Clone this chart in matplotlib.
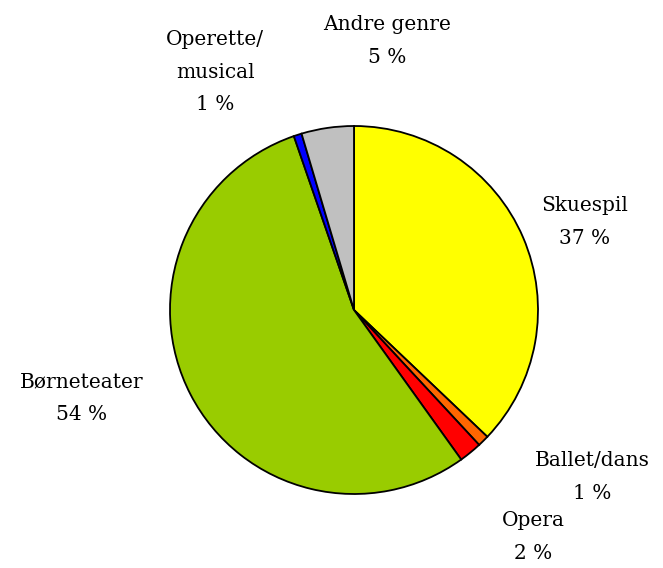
import matplotlib
matplotlib.use("Agg")
import matplotlib.pyplot as plt

categories = ["Skuespil", "Ballet/dans", "Opera", "Børneteater", "Operette/\nmusical", "Andre genre"]
values = [37.1, 1.0, 2.0, 54.6, 0.7, 4.6]
pct_labels = ["37 %", "1 %", "2 %", "54 %", "1 %", "5 %"]
colors = ["#FFFF00", "#FF6600", "#FF0000", "#99CC00", "#0000FF", "#C0C0C0"]
label_pos = [(1.255, 0.478), (1.293, -0.908), (0.973, -1.234), (-1.478, -0.478), (-0.755, 1.293), (0.179, 1.462)]

W, H = 663, 568
cx, cy, r = 354, 310, 184
fig = plt.figure(figsize=(W / 100, H / 100), dpi=100)
ax = fig.add_axes([(cx - r) / W, (H - cy - r) / H, 2 * r / W, 2 * r / H])
ax.pie(values, colors=colors, startangle=90, counterclock=False,
       wedgeprops=dict(edgecolor="black", linewidth=1.3))
ax.set_xlim(-1, 1)
ax.set_ylim(-1, 1)
ax.set_aspect("equal")
ax.axis("off")

for cat, pct, (x, y) in zip(categories, pct_labels, label_pos):
    ax.text(x, y, f"{cat}\n{pct}", ha="center", va="center", fontsize=14.5,
            family="DejaVu Serif", linespacing=1.9, clip_on=False)

fig.savefig("out.png", dpi=100)
